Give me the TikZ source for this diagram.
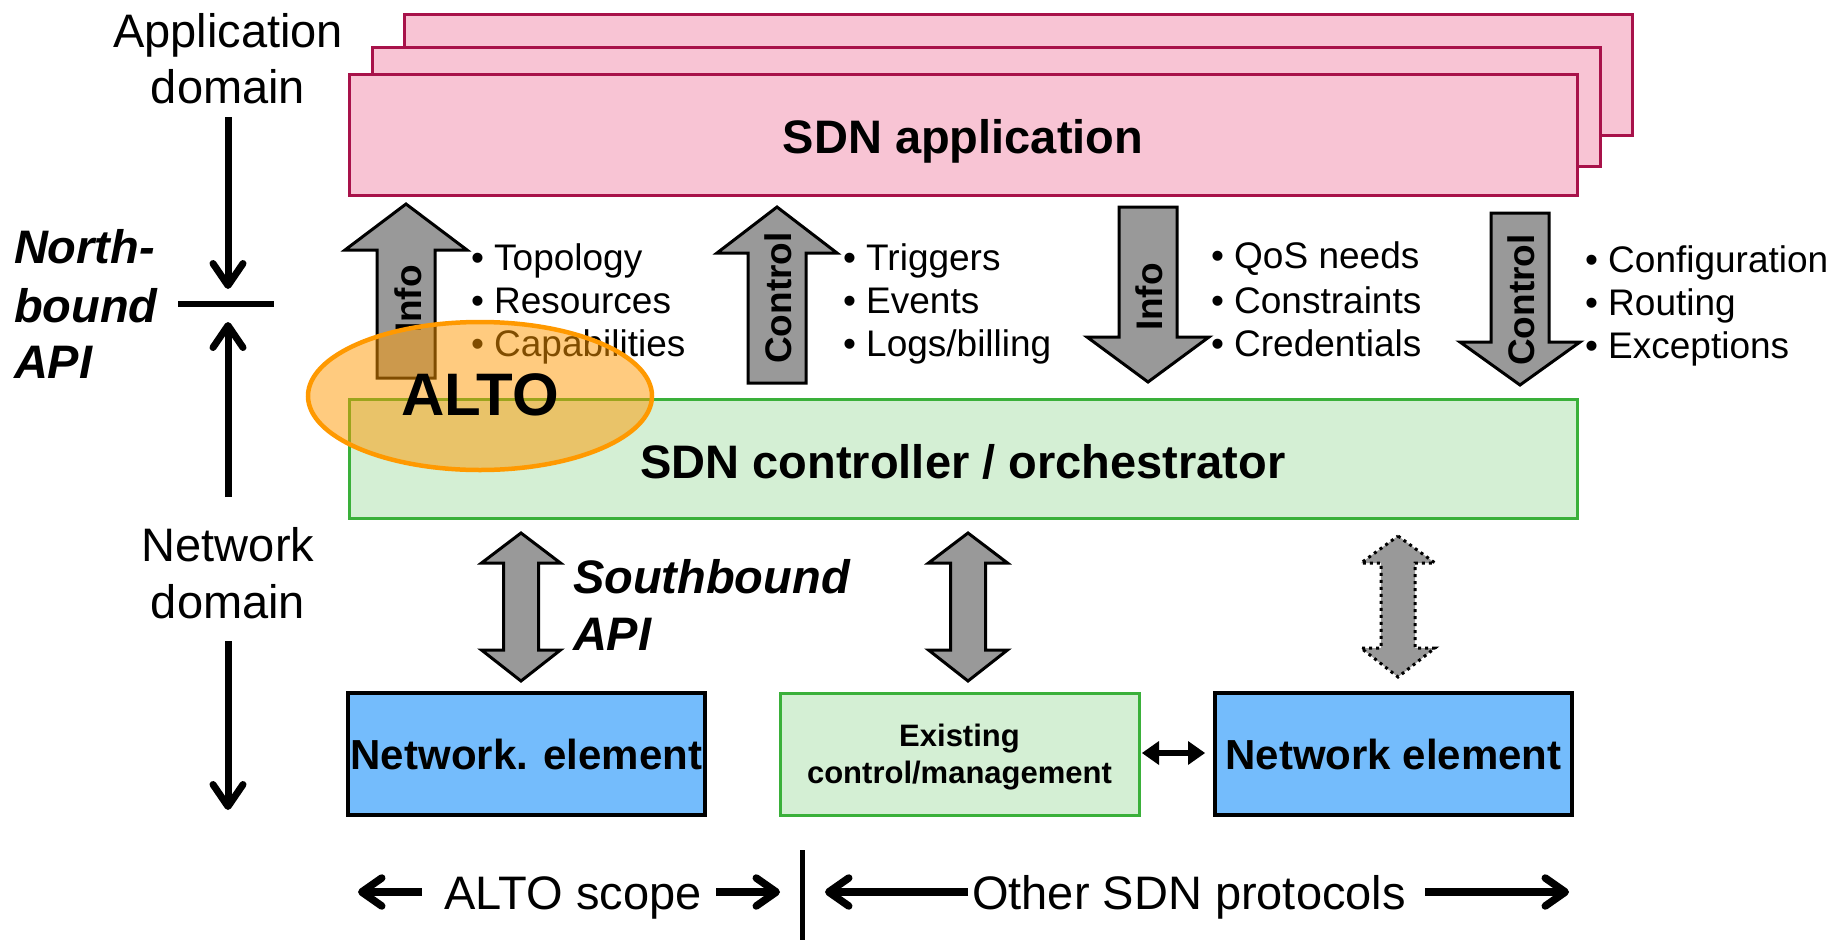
\documentclass[tikz,border=0pt]{standalone}
\usepackage{fontspec}
\setmainfont{Liberation Sans}
\usetikzlibrary{arrows.meta}

\definecolor{appfill}{HTML}{F8C4D4}
\definecolor{appline}{HTML}{A8124A}
\definecolor{ctlfill}{HTML}{D4EFD4}
\definecolor{ctlline}{HTML}{3AB03A}
\definecolor{nefill}{HTML}{74BCFC}
\definecolor{arrowgrey}{HTML}{999999}
\definecolor{altoorange}{HTML}{FF9900}

\newcommand\fs[2]{\fontsize{#1}{#2}\selectfont}

% vertical block arrow: [style]{x centre}{tip y}{head base y}{tail y}{half shaft}{half head}
\newcommand\vblock[7][]{%
  \draw[blockarrow,#1] ({#2-#6},#5) -- ({#2-#6},#4) -- ({#2-#7},#4) -- (#2,#3)
    -- ({#2+#7},#4) -- ({#2+#6},#4) -- ({#2+#6},#5) -- cycle;}
% vertical double block arrow: [style]{x centre}{top tip}{top base}{bottom base}{bottom tip}{half shaft}{half head}
\newcommand\dblock[8][]{%
  \draw[blockarrow,#1] (#2,#3) -- ({#2+#8},#4) -- ({#2+#7},#4) -- ({#2+#7},#5)
    -- ({#2+#8},#5) -- (#2,#6) -- ({#2-#8},#5) -- ({#2-#7},#5) -- ({#2-#7},#4)
    -- ({#2-#8},#4) -- cycle;}

\begin{document}
\begin{tikzpicture}[x=1pt,y=-1pt,
  every node/.style={inner sep=0pt, outer sep=0pt},
  lbl/.style={font=\fs{47}{56}},
  blbl/.style={font=\bfseries\fs{47}{56}},
  bilbl/.style={font=\bfseries\itshape\fs{47}{57}},
  item/.style={font=\fs{37}{43}, anchor=base west},
  vlabel/.style={font=\bfseries\fs{37}{40}, rotate=90},
  appbox/.style={draw=appline, fill=appfill, line width=3pt},
  ctlbox/.style={draw=ctlline, fill=ctlfill, line width=3pt},
  nebox/.style={draw=black, fill=nefill, line width=3.5pt},
  blockarrow/.style={draw=black, fill=arrowgrey, line width=3pt, line join=miter},
  dottedarrow/.style={dash pattern=on 3pt off 4pt},
  domarrow/.style={line width=7pt, -{Straight Barb[length=22pt, width=30pt, round]}},
  scopearrow/.style={line width=7.5pt, -{Straight Barb[length=20pt, width=28pt, round]}},
]

\fill[white] (0,0) rectangle (1834,940);
\useasboundingbox (0,0) rectangle (1834,940);

% ---- application layer (stacked boxes) ----
\draw[appbox] (404,14) rectangle (1632,135);
\draw[appbox] (372,47) rectangle (1600,166);
\draw[appbox] (349,74) rectangle (1577,195);
\node[blbl, anchor=base] (app) at (963,153) {SDN application};

% ---- controller ----
\draw[ctlbox] (349,399) rectangle (1577,518);
\node[blbl, anchor=base] (ctl) at (963,478) {SDN controller / orchestrator};

% ---- northbound block arrows ----
\vblock{406}{204}{250}{378}{29}{61}
\vblock{777}{207}{253}{383}{29}{60}
\vblock{1148}{382}{337}{207}{29}{61}
\vblock{1520}{385}{342}{213}{29}{60}
\node[vlabel] (info1) at (408,299) {Info};
\node[vlabel] (ctrl1) at (778,298) {Control};
\node[vlabel] (info2) at (1149,297) {Info};
\node[vlabel] (ctrl2) at (1521,300) {Control};

% ---- item lists ----
\node[item] (l1a) at (471,270) {• Topology};
\node[item] (l1b) at (471,313) {• Resources};
\node[item] (l1c) at (471,356) {• Capabilities};
\node[item] (l2a) at (843,270) {• Triggers};
\node[item] (l2b) at (843,313) {• Events};
\node[item] (l2c) at (843,356) {• Logs/billing};
\node[item] (l3a) at (1211,268) {• QoS needs};
\node[item] (l3b) at (1211,313) {• Constraints};
\node[item] (l3c) at (1211,356) {• Credentials};
\node[item] (l4a) at (1585,272) {• Configuration};
\node[item] (l4b) at (1585,315) {• Routing};
\node[item] (l4c) at (1585,358) {• Exceptions};

% ---- ALTO highlight ----
\draw[draw=altoorange, fill=altoorange, fill opacity=0.5, line width=4.5pt]
  (480,396) ellipse [x radius=172, y radius=74];
\node[font=\bfseries\fs{60}{64}] (alto) at (480,395) {ALTO};

% ---- southbound double arrows ----
\dblock{521}{533}{563}{650}{681}{17.5}{39.5}
\dblock{968}{533}{563}{650}{681}{17.5}{39.5}
\dblock[dottedarrow]{1398}{536}{563}{648}{677}{17}{37}
\node[bilbl, anchor=base west] (sb1) at (573,593) {Southbound};
\node[bilbl, anchor=base west] (sb2) at (573,650) {API};

% ---- network level ----
\draw[nebox] (348,693) rectangle (705,815);
\node[font=\bfseries\fs{42}{50}] (ne1) at (526.5,754) {Network. element};
\draw[ctlbox] (780,693) rectangle (1139,815);
\node[font=\bfseries\fs{31}{37}, align=center] (exist) at (959.5,757) {Existing\\control/management};
\draw[nebox] (1215,693) rectangle (1572,815);
\node[font=\bfseries\fs{42}{50}] (ne2) at (1393.5,754) {Network element};
\coordinate (ea) at (1142,753);
\coordinate (eb) at (1205,753);
\draw[line width=6pt, {Triangle[length=17pt, width=24pt, line width=0pt]}-{Triangle[length=17pt, width=24pt, line width=0pt]}] (ea) -- (eb);

% ---- domain axis on the left ----
\node[lbl, anchor=base] (appdom1) at (228,47) {Application};
\node[lbl, anchor=base] (appdom2) at (228,103) {domain};
\node[lbl, anchor=base] (netdom1) at (228,561) {Network};
\node[lbl, anchor=base] (netdom2) at (228,618) {domain};
\node[bilbl, anchor=base west] (nb1) at (14,263) {North-};
\node[bilbl, anchor=base west] (nb2) at (14,322) {bound};
\node[bilbl, anchor=base west] (nb3) at (14,378) {API};
\coordinate (d1s) at (228,117);
\coordinate (d1e) at (228,289);
\coordinate (d2s) at (228,497);
\coordinate (d2e) at (228,322);
\coordinate (d3s) at (228,641);
\coordinate (d3e) at (228,810);
\coordinate (barl) at (178,304);
\coordinate (barr) at (274,304);
\draw[domarrow] (d1s) -- (d1e);
\draw[domarrow] (d2s) -- (d2e);
\draw[domarrow] (d3s) -- (d3e);
\draw[line width=6.5pt] (barl) -- (barr);

% ---- scope line at the bottom ----
\node[lbl, anchor=base] (scope) at (573,909) {ALTO scope};
\node[lbl, anchor=base] (other) at (1189,909) {Other SDN protocols};
\coordinate (s1a) at (422,892);
\coordinate (s1b) at (358,892);
\coordinate (s2a) at (716,892);
\coordinate (s2b) at (780,892);
\coordinate (s3a) at (968,892);
\coordinate (s3b) at (825,892);
\coordinate (s4a) at (1425,892);
\coordinate (s4b) at (1569,892);
\coordinate (sepT) at (802,850);
\coordinate (sepB) at (802,940);
\draw[scopearrow] (s1a) -- (s1b);
\draw[scopearrow] (s2a) -- (s2b);
\draw[scopearrow] (s3a) -- (s3b);
\draw[scopearrow] (s4a) -- (s4b);
\draw[line width=5pt] (sepT) -- (sepB);
\end{tikzpicture}
\end{document}
